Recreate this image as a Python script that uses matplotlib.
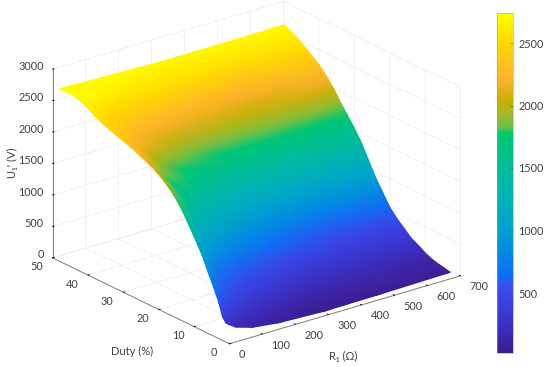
import numpy as np
import matplotlib
matplotlib.use("Agg")
import matplotlib.pyplot as plt
from matplotlib.colors import LinearSegmentedColormap, Normalize
from matplotlib.cm import ScalarMappable
from mpl_toolkits.mplot3d import proj3d

plt.rcParams['font.family'] = ['Lato', 'DejaVu Sans']
plt.rcParams['font.size'] = 7.8
plt.rcParams['grid.color'] = '#ececec'
plt.rcParams['grid.linewidth'] = 0.5

TEXT = '#404040'

r1_ticks = [0, 100, 200, 300, 400, 500, 600, 700]
duty_ticks = [0, 10, 20, 30, 40, 50]
u1_ticks = [0, 500, 1000, 1500, 2000, 2500, 3000]
cbar_ticks = [500, 1000, 1500, 2000, 2500]

# surface: one list per R1 column, one value per duty row
duty = [1, 2, 3, 4, 6, 8, 10, 12, 14, 16, 18, 20, 22, 24, 26, 28, 30, 32, 34, 36, 38, 41, 44, 48]
r1 = [0, 10, 30, 80, 160, 300, 460, 680]
u1_r0 = [300, 380, 570, 710, 970, 1230, 1430, 1630, 1810, 1950, 2060, 2150, 2220, 2270, 2320, 2365, 2405, 2440, 2480, 2525, 2580, 2680, 2740, 2740]
u1_r10 = [260, 350, 480, 610, 850, 1100, 1320, 1530, 1720, 1860, 1980, 2070, 2150, 2210, 2260, 2310, 2360, 2400, 2450, 2500, 2560, 2660, 2730, 2740]
u1_r30 = [190, 260, 350, 450, 620, 820, 1040, 1270, 1490, 1680, 1810, 1920, 2010, 2080, 2150, 2220, 2280, 2330, 2390, 2450, 2510, 2610, 2710, 2740]
u1_r80 = [110, 160, 220, 300, 420, 520, 620, 800, 1000, 1210, 1400, 1570, 1700, 1780, 1850, 1960, 2070, 2170, 2260, 2340, 2410, 2550, 2680, 2730]
u1_r160 = [60, 90, 130, 170, 270, 380, 480, 580, 720, 880, 1040, 1210, 1370, 1510, 1640, 1760, 1850, 1960, 2100, 2220, 2330, 2490, 2630, 2720]
u1_r300 = [30, 50, 70, 95, 155, 225, 300, 400, 520, 640, 770, 930, 1100, 1280, 1440, 1600, 1740, 1830, 1960, 2130, 2260, 2420, 2590, 2700]
u1_r460 = [40, 60, 85, 105, 150, 200, 270, 340, 420, 510, 600, 780, 960, 1180, 1390, 1570, 1730, 1850, 1970, 2080, 2180, 2370, 2570, 2700]
u1_r680 = [60, 70, 85, 95, 125, 170, 240, 300, 400, 500, 620, 800, 980, 1200, 1420, 1600, 1760, 1910, 2080, 2220, 2340, 2470, 2600, 2710]

# colour bar stops
cmap_values = [20, 120, 300, 550, 650, 1000, 1300, 1500, 1780, 1830, 1950, 2050, 2200, 2500, 2740]
cmap_colors = ['#3b1c8f', '#3d24a8', '#3c35d0', '#3550f0', '#0a70fa', '#00a0d0', '#00b4b4', '#00bc98',
               '#00c86e', '#70c048', '#aab820', '#c8b000', '#ffb030', '#ffd800', '#ffff00']
vmin, vmax = cmap_values[0], cmap_values[-1]
stops = [(v - vmin) / (vmax - vmin) for v in cmap_values]
cmap = LinearSegmentedColormap.from_list('u1map', list(zip(stops, cmap_colors)), N=512)
norm = Normalize(vmin, vmax)

fig = plt.figure(figsize=(5.5, 3.67), dpi=100)

# frame of the plot
ax = fig.add_axes([28 / 550, -34 / 367, 445 / 550, 445 / 367], projection='3d')
ax.patch.set_visible(False)
ax.set_proj_type('ortho')
ax.view_init(elev=22.2, azim=-127.9)
ax.set_box_aspect((292.8, 288, 204))
ax.set_xlim(0, 700, view_margin=0)
ax.set_ylim(0, 50, view_margin=0)
ax.set_zlim(0, 3000, view_margin=0)
ax.set_xticks(r1_ticks)
ax.set_yticks(duty_ticks)
ax.set_zticks(u1_ticks)
ax.set_xticklabels([])
ax.set_yticklabels([])
ax.set_zticklabels([])
for axis in (ax.xaxis, ax.yaxis, ax.zaxis):
    axis.set_pane_color('white')
    axis.pane.set_edgecolor('none')
    axis.line.set_color('#808080')
    axis.line.set_linewidth(0.7)
    axis._axinfo['tick']['color'] = '#808080'
    axis._axinfo['tick']['linewidth'] = {True: 0.6, False: 0.5}
    axis._axinfo['tick']['inward_factor'] = 0.0
    axis._axinfo['tick']['outward_factor'] = 0.08

fig.canvas.draw()


# data coordinates to image pixels, for everything on the overlay
def to_pixels(x, y, z):
    px, py, _ = proj3d.proj_transform(np.ravel(x), np.ravel(y), np.ravel(z), ax.get_proj())
    disp = ax.transData.transform(np.column_stack([px, py]))
    return disp[:, 0], 367 - disp[:, 1]


over = fig.add_axes([0, 0, 1, 1])
over.set_xlim(0, 550)
over.set_ylim(367, 0)
over.axis('off')

# surface goes on the overlay so the colours can be smooth between rows
Z = np.array([u1_r0, u1_r10, u1_r30, u1_r80, u1_r160, u1_r300, u1_r460, u1_r680], dtype=float).T
R, D = np.meshgrid(r1, duty)
X_px, Y_px = to_pixels(R, D, Z)
X_px = X_px.reshape(Z.shape)
Y_px = Y_px.reshape(Z.shape)
# far rows first
over.pcolormesh(X_px[::-1], Y_px[::-1], Z[::-1], shading='gouraud', cmap=cmap, norm=norm)

# tick labels, placed like the reference rather than where mplot3d puts them
for t in r1_ticks:
    x, y = to_pixels(t, 0, 0)
    over.text(x[0] + 9, y[0] + 11, str(t), ha='left', va='center', color=TEXT, fontsize=7.8)
for t in duty_ticks:
    x, y = to_pixels(0, t, 0)
    over.text(x[0] - 16, y[0] + 9, str(t), ha='center', va='center', color=TEXT, fontsize=7.8)
for t in u1_ticks:
    x, y = to_pixels(0, 50, t)
    over.text(x[0] - 9, y[0] - 3, str(t), ha='right', va='center', color=TEXT, fontsize=7.8)

# colour bar
cax = fig.add_axes([497 / 550, (367 - 353) / 367, 16 / 550, 340 / 367])
cb = fig.colorbar(ScalarMappable(norm=norm, cmap=cmap), cax=cax, ticks=cbar_ticks)
cb.outline.set_linewidth(0.4)
cb.outline.set_edgecolor('#a0a0a0')
cax.tick_params(direction='in', length=2, width=0.5, color='#606060', labelsize=7.8, labelcolor=TEXT, pad=4)

# axis titles
fig.text(12 / 550, 1 - 163 / 367, "U\u2081' (V)", rotation=90, ha='center', va='center', color=TEXT, fontsize=8)
fig.text(132 / 550, 1 - 351 / 367, 'Duty (%)', ha='center', va='center', color=TEXT, fontsize=8)
fig.text(343 / 550, 1 - 356 / 367, 'R\u2081 (\u03a9)', ha='center', va='center', color=TEXT, fontsize=8)

fig.savefig('out.png', dpi=100)
